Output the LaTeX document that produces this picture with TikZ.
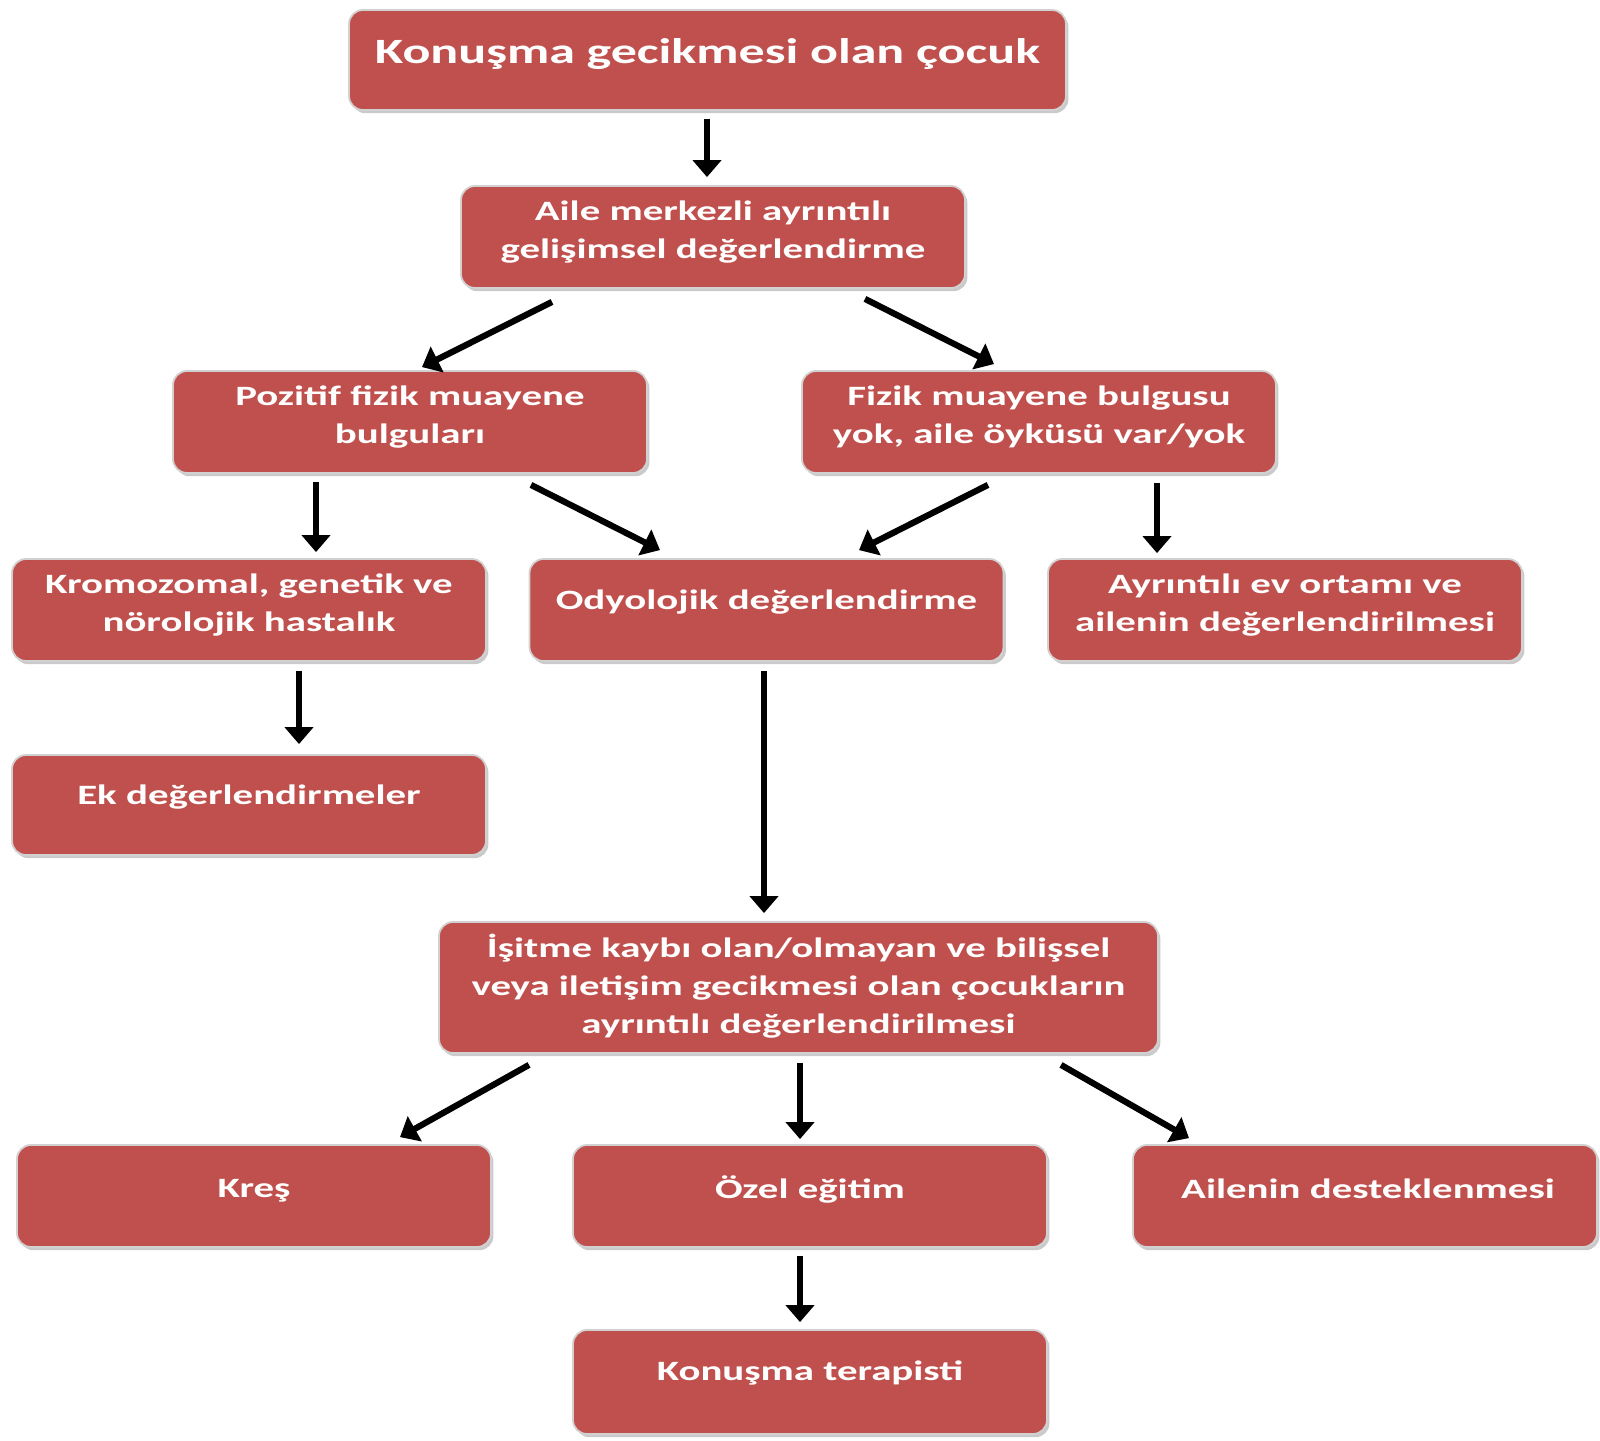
\documentclass[tikz,border=0pt]{standalone}
\usepackage{fontspec}
\newfontfamily\boxfont{Carlito}[FakeStretch=1.46]
\usetikzlibrary{arrows.meta,shadows}
\definecolor{boxred}{HTML}{C0504D}
\begin{document}
\begin{tikzpicture}[x=0.5pt,y=-0.5pt,
  box/.style={rectangle, rounded corners=7pt, fill=boxred, draw=black!18, line width=0.9pt,
    minimum width=237pt, minimum height=51pt, inner sep=0pt,
    drop shadow={shadow xshift=1.2pt, shadow yshift=-1.6pt, fill=black!35, opacity=0.6}},
  txt/.style={text=white, align=center, font=\boxfont\bfseries\fontsize{14pt}{19pt}\selectfont, inner sep=0pt},
  arr/.style={line width=3.1pt, -{Triangle[length=8.5pt,width=14pt]}}
]
\useasboundingbox (0,0) rectangle (1600,1440);

\node[box, minimum width=358.5pt, minimum height=50pt,
  label={[txt, font=\boxfont\bfseries\fontsize{17.8pt}{21pt}\selectfont, yshift=3pt]center:Konuşma gecikmesi olan çocuk}] (top) at (707.5,60) {};
\node[box, minimum width=252pt,
  label={[txt, yshift=2.5pt]center:{Aile merkezli ayrıntılı\\gelişimsel değerlendirme}}] (aile) at (713,237) {};
\node[box, label={[txt, yshift=2.5pt]center:{Pozitif fizik muayene\\bulguları}}] (poz) at (410,422) {};
\node[box, label={[txt, yshift=2.5pt]center:{Fizik muayene bulgusu\\yok, aile öyküsü var/yok}}] (fiz) at (1039,422) {};
\node[box, label={[txt, yshift=2.5pt]center:{Kromozomal, genetik ve\\nörolojik hastalık}}] (krom) at (249,610) {};
\node[box, label={[txt, yshift=4pt]center:{Odyolojik değerlendirme}}] (odyo) at (766.5,610) {};
\node[box, label={[txt, yshift=2.5pt]center:{Ayrıntılı ev ortamı ve\\ailenin değerlendirilmesi}}] (ayr) at (1285,610) {};
\node[box, minimum height=50pt, label={[txt, yshift=4pt]center:{Ek değerlendirmeler}}] (ek) at (249,805) {};
\node[box, minimum width=359.5pt, minimum height=65.5pt,
  label={[txt, yshift=0.5pt]center:{İşitme kaybı olan/olmayan ve bilişsel\\veya iletişim gecikmesi olan çocukların\\ayrıntılı değerlendirilmesi}}] (isit) at (798.5,987.5) {};
\node[box, label={[txt, yshift=2.5pt]center:{Kreş}}] (kres) at (254,1196) {};
\node[box, label={[txt, yshift=3.5pt]center:{Özel eğitim}}] (ozel) at (810,1196) {};
\node[box, minimum width=232pt, label={[txt, yshift=3.5pt, xshift=1.5pt]center:{Ailenin desteklenmesi}}] (ail) at (1365,1196) {};
\node[box, minimum height=52pt, label={[txt, yshift=4.5pt]center:{Konuşma terapisti}}] (kt) at (810,1382) {};

\draw[arr] ([shift={(-0.5,8)}]top.south) -- ([shift={(-6,-8)}]aile.north);
\draw[arr] ([shift={(-161,13)}]aile.south) -- ([shift={(12,-3)}]poz.north);
\draw[arr] ([shift={(152,10)}]aile.south) -- ([shift={(-45,-6)}]fiz.north);
\draw[arr] ([shift={(-94,8)}]poz.south) -- ([shift={(67,-6)}]krom.north);
\draw[arr] ([shift={(121,11)}]poz.south) -- ([shift={(-106.5,-8)}]odyo.north);
\draw[arr] ([shift={(-51,11)}]fiz.south) -- ([shift={(92.5,-8)}]odyo.north);
\draw[arr] ([shift={(118,9)}]fiz.south) -- ([shift={(-128,-5)}]ayr.north);
\draw[arr] ([shift={(50,9)}]krom.south) -- ([shift={(50,-10)}]ek.north);
\draw[arr] ([shift={(-2.5,9)}]odyo.south) -- ([shift={(-34.5,-8)}]isit.north);
\draw[arr] ([shift={(-269.5,11)}]isit.south) -- ([shift={(146,-7)}]kres.north);
\draw[arr] ([shift={(1.5,9)}]isit.south) -- ([shift={(-10,-5)}]ozel.north);
\draw[arr] ([shift={(262.5,11)}]isit.south) -- ([shift={(-176,-6)}]ail.north);
\draw[arr] ([shift={(-10,8)}]ozel.south) -- ([shift={(-10,-7)}]kt.north);
\end{tikzpicture}
\end{document}
